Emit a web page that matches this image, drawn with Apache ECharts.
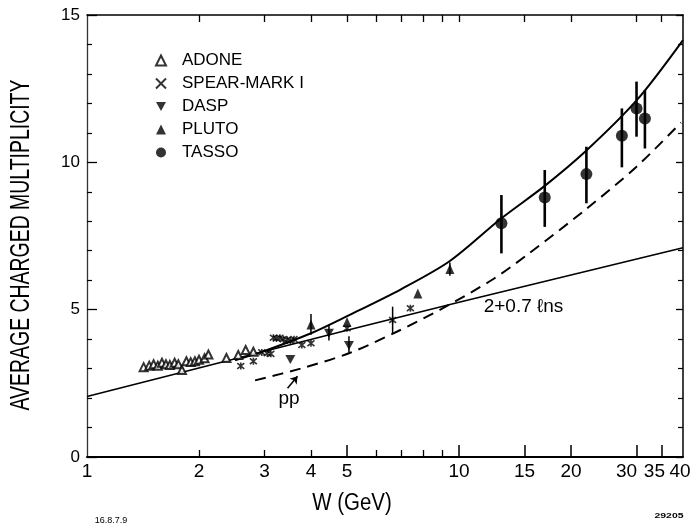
<!DOCTYPE html>
<html><head><meta charset="utf-8">
<script src="https://cdn.jsdelivr.net/npm/echarts@6/dist/echarts.min.js"></script>
<style>html,body{margin:0;padding:0;background:#fff}#c{width:695px;height:525px}</style>
</head><body><div id="c"></div>
<script>
// ---- axis ticks / labels ----
const xLabelValues = [1, 2, 3, 4, 5, 10, 15, 20, 30, 35, 40];
const xMajorTicks = [5, 10, 15, 20, 30, 35];
const xMinorTicks = [2, 3, 4, 6, 7, 8, 9];
const xTopTicks = [2, 3, 4, 5, 6, 7, 8, 9, 10, 15, 20, 30, 35];

// ---- data (W in GeV, average charged multiplicity) ----
const adoneW = [1.42, 1.47, 1.51, 1.55, 1.59, 1.63, 1.67, 1.72, 1.76, 1.80, 1.85, 1.90, 1.95, 2.00, 2.07, 2.12, 2.37, 2.55, 2.67, 2.80];
const adoneN = [3.05, 3.10, 3.15, 3.10, 3.20, 3.15, 3.12, 3.20, 3.15, 2.95, 3.25, 3.22, 3.25, 3.30, 3.35, 3.48, 3.36, 3.46, 3.63, 3.57];

const spearW = [2.59, 2.80, 2.95, 3.05, 3.12, 3.17, 3.23, 3.30, 3.37, 3.45, 3.52, 3.60, 3.78, 4.00, 5.00, 6.63, 7.40];
const spearN = [3.09, 3.25, 3.55, 3.52, 3.50, 4.05, 4.02, 4.05, 4.00, 3.98, 3.95, 4.00, 3.80, 3.86, 4.37, 4.65, 5.05];

const daspW = [3.52, 4.47, 5.06];
const daspN = [3.31, 4.20, 3.78];

const plutoW = [4.00, 5.00, 7.75, 9.45];
const plutoN = [4.50, 4.58, 5.55, 6.38];

const tassoW = [13, 17, 22, 27.4, 30, 31.6];
const tassoN = [7.93, 8.81, 9.60, 10.90, 11.83, 11.49];
const tassoLo = [6.91, 7.81, 8.61, 9.83, 10.87, 10.47];
const tassoHi = [8.89, 9.74, 10.53, 11.83, 12.74, 12.45];

const otherErrW = [4.00, 4.47, 5.06, 6.63, 9.45];
const otherErrLo = [4.15, 3.95, 3.50, 4.20, 6.15];
const otherErrHi = [4.85, 4.50, 4.10, 5.10, 6.60];

// curves
const fitW = [2.5, 3, 4, 5, 7, 9.45, 13, 17, 22, 30, 40];
const fitN = [3.28, 3.60, 4.20, 4.78, 5.70, 6.65, 8.10, 9.20, 10.40, 12.10, 14.15];

const lnsW = [1, 5, 10, 40];
const lnsN = [2.05, 4.30, 5.25, 7.10];

const ppW = [2.83, 3.75, 5.06, 6.8, 9.05, 12.4, 15.2, 21.9, 30, 39.5];
const ppN = [2.60, 3.00, 3.52, 4.25, 5.05, 6.05, 6.85, 8.40, 9.85, 11.35];

// annotation anchor points (data units)
const ppLabelAt = [3.49, 1.99];
const ppArrowFrom = [3.46, 2.33];
const ppArrowTo = [3.68, 2.74];
const lnsLabelAt = [14.9, 5.09];

const FONT = "'Liberation Sans', Arial, sans-serif";
const zip = (a, b) => a.map((v, i) => [v, b[i]]);

function errSeries(w, lo, hi, width) {
  return {
    type: 'custom', xAxisIndex: 0, yAxisIndex: 0, silent: true, z: 3,
    data: w.map((x, i) => [x, lo[i], hi[i]]),
    renderItem: (params, api) => {
      const a = api.coord([api.value(0), api.value(1)]);
      const b = api.coord([api.value(0), api.value(2)]);
      return { type: 'line', shape: { x1: a[0], y1: a[1], x2: b[0], y2: b[1] },
               style: { stroke: '#000', lineWidth: width } };
    }
  };
}

const asterisk = 'path://M0,0L10,10M10,0L0,10M5,-1L5,11';
const xCross = 'path://M0,0L10,10M10,0L0,10';
const invTri = 'path://M0,0L10,0L5,9Z';

const chart = echarts.init(document.getElementById('c'), null, { renderer: 'canvas' });
const lineBase = { type: 'line', xAxisIndex: 0, yAxisIndex: 0, showSymbol: false, symbol: 'none', silent: true, z: 2 };

chart.setOption({
  animation: false,
  backgroundColor: '#fff',
  grid: { left: 87, right: 12, top: 15, bottom: 68, containLabel: false },
  legend: {
    orient: 'vertical', left: 150, top: 47, itemWidth: 10, itemHeight: 10, itemGap: 6,
    selectedMode: false,
    textStyle: { fontSize: 17, color: '#000', fontFamily: FONT, padding: [0, 0, 0, 11] },
    data: [
      { name: 'ADONE' },
      { name: 'SPEAR-MARK I', icon: xCross },
      { name: 'DASP' },
      { name: 'PLUTO' },
      { name: 'TASSO' }
    ]
  },
  xAxis: [
    {
      type: 'log', logBase: 10, min: 1, max: 40, position: 'bottom',
      axisLine: { show: true, lineStyle: { color: '#000', width: 2 } },
      axisTick: { show: true, inside: true, length: 12, customValues: xMajorTicks, lineStyle: { color: '#000', width: 1.5 } },
      axisLabel: {
        show: true, customValues: xLabelValues, fontSize: 19, color: '#000', fontFamily: FONT, margin: 5,
        formatter: v => (Math.abs(v - 35) < 0.01 ? '{l|35}' : Math.abs(v - 40) < 0.01 ? '{m|40}' : Math.abs(v - 30) < 0.01 ? '{k|30}' : String(Math.round(v))),
        rich: {
          k: { fontSize: 19, fontFamily: FONT, color: '#000', padding: [0, 20, 0, 0] },
          l: { fontSize: 19, fontFamily: FONT, color: '#000', padding: [0, 14, 0, 0] },
          m: { fontSize: 19, fontFamily: FONT, color: '#000', padding: [0, 6, 0, 0] }
        }
      },
      splitLine: { show: false }, minorTick: { show: false }
    },
    {
      type: 'log', logBase: 10, min: 1, max: 40, position: 'bottom',
      axisLine: { show: false },
      axisTick: { show: true, inside: true, length: 7, customValues: xMinorTicks, lineStyle: { color: '#000', width: 1.3 } },
      axisLabel: { show: false }, splitLine: { show: false }
    },
    {
      type: 'log', logBase: 10, min: 1, max: 40, position: 'top',
      axisLine: { show: true, lineStyle: { color: '#000', width: 1.5 } },
      axisTick: { show: true, inside: true, length: 7, customValues: xTopTicks, lineStyle: { color: '#000', width: 1.3 } },
      axisLabel: { show: false }, splitLine: { show: false }
    }
  ],
  yAxis: [
    {
      type: 'value', min: 0, max: 15, interval: 5, position: 'left',
      axisLine: { show: true, lineStyle: { color: '#333', width: 1.3 } },
      axisTick: { show: true, inside: true, length: 10, lineStyle: { color: '#000', width: 1.3 } },
      minorTick: { show: true, splitNumber: 5, length: 5, lineStyle: { color: '#000', width: 1.2 } },
      axisLabel: { fontSize: 17, color: '#000', fontFamily: FONT, margin: 7 },
      splitLine: { show: false }, minorSplitLine: { show: false }
    },
    {
      type: 'value', min: 0, max: 15, interval: 5, position: 'right',
      axisLine: { show: true, lineStyle: { color: '#000', width: 1.5 } },
      axisTick: { show: true, inside: true, length: 7, lineStyle: { color: '#000', width: 1.3 } },
      minorTick: { show: true, splitNumber: 5, length: 5, lineStyle: { color: '#000', width: 1.2 } },
      axisLabel: { show: false },
      splitLine: { show: false }, minorSplitLine: { show: false }
    }
  ],
  series: [
    Object.assign({}, lineBase, { name: 'fit', data: zip(fitW, fitN), smooth: 0.3,
      lineStyle: { color: '#000', width: 2 } }),
    Object.assign({}, lineBase, { name: 'lns', data: zip(lnsW, lnsN), smooth: false,
      lineStyle: { color: '#000', width: 1.6 },
      markPoint: { symbol: 'circle', symbolSize: 0, silent: true,
        label: { show: true, position: 'inside', formatter: '2+0.7 \u2113ns', fontSize: 19, color: '#000', fontFamily: FONT },
        data: [{ coord: lnsLabelAt }] } }),
    Object.assign({}, lineBase, { name: 'pp', data: zip(ppW, ppN), smooth: 0.3,
      lineStyle: { color: '#000', width: 2, type: [11, 7] },
      markPoint: { symbol: 'circle', symbolSize: 0, silent: true,
        label: { show: true, position: 'inside', formatter: 'pp', fontSize: 19, color: '#000', fontFamily: FONT },
        data: [{ coord: ppLabelAt }] },
      markLine: { silent: true, symbol: ['none', 'arrow'], symbolSize: 7,
        lineStyle: { color: '#000', width: 1.5, type: 'solid' }, label: { show: false },
        data: [[{ coord: ppArrowFrom }, { coord: ppArrowTo }]] } }),
    errSeries(tassoW, tassoLo, tassoHi, 2.6),
    errSeries(otherErrW, otherErrLo, otherErrHi, 1.5),
    { name: 'ADONE', type: 'scatter', xAxisIndex: 0, yAxisIndex: 0, z: 4, symbol: 'emptyTriangle', symbolSize: 8,
      itemStyle: { color: '#000', borderColor: '#000', borderWidth: 1.4 }, data: zip(adoneW, adoneN) },
    { name: 'SPEAR-MARK I', type: 'scatter', xAxisIndex: 0, yAxisIndex: 0, z: 4, symbol: asterisk, symbolSize: 7,
      itemStyle: { color: '#000', borderColor: '#000', borderWidth: 1.6 }, data: zip(spearW, spearN) },
    { name: 'DASP', type: 'scatter', xAxisIndex: 0, yAxisIndex: 0, z: 4, symbol: invTri, symbolSize: [10, 9],
      itemStyle: { color: '#000' }, data: zip(daspW, daspN) },
    { name: 'PLUTO', type: 'scatter', xAxisIndex: 0, yAxisIndex: 0, z: 4, symbol: 'triangle', symbolSize: [9, 10],
      itemStyle: { color: '#000' }, data: zip(plutoW, plutoN) },
    { name: 'TASSO', type: 'scatter', xAxisIndex: 0, yAxisIndex: 0, z: 5, symbol: 'circle', symbolSize: 12,
      itemStyle: { color: '#000' }, data: zip(tassoW, tassoN) }
  ],
  graphic: [
    { type: 'text', x: 22, y: 245, rotation: Math.PI / 2, scaleX: 0.72, silent: true,
      style: { text: 'AVERAGE CHARGED MULTIPLICITY', font: "27px 'Liberation Sans', Arial, sans-serif",
               fill: '#000', align: 'center', verticalAlign: 'middle' } },
    { type: 'text', x: 352, y: 504, scaleX: 0.89, silent: true,
      style: { text: 'W (GeV)', font: "23px 'Liberation Sans', Arial, sans-serif",
               fill: '#000', align: 'center', verticalAlign: 'middle' } },
    { type: 'text', x: 111, y: 521, silent: true,
      style: { text: '16.8.7.9', font: "9px 'Liberation Sans', Arial, sans-serif",
               fill: '#000', align: 'center', verticalAlign: 'middle' } },
    { type: 'text', x: 669, y: 516, scaleX: 1.3, silent: true,
      style: { text: '29205', font: "bold 8px 'Liberation Sans', Arial, sans-serif",
               fill: '#000', align: 'center', verticalAlign: 'middle' } }
  ]
});
</script></body></html>
